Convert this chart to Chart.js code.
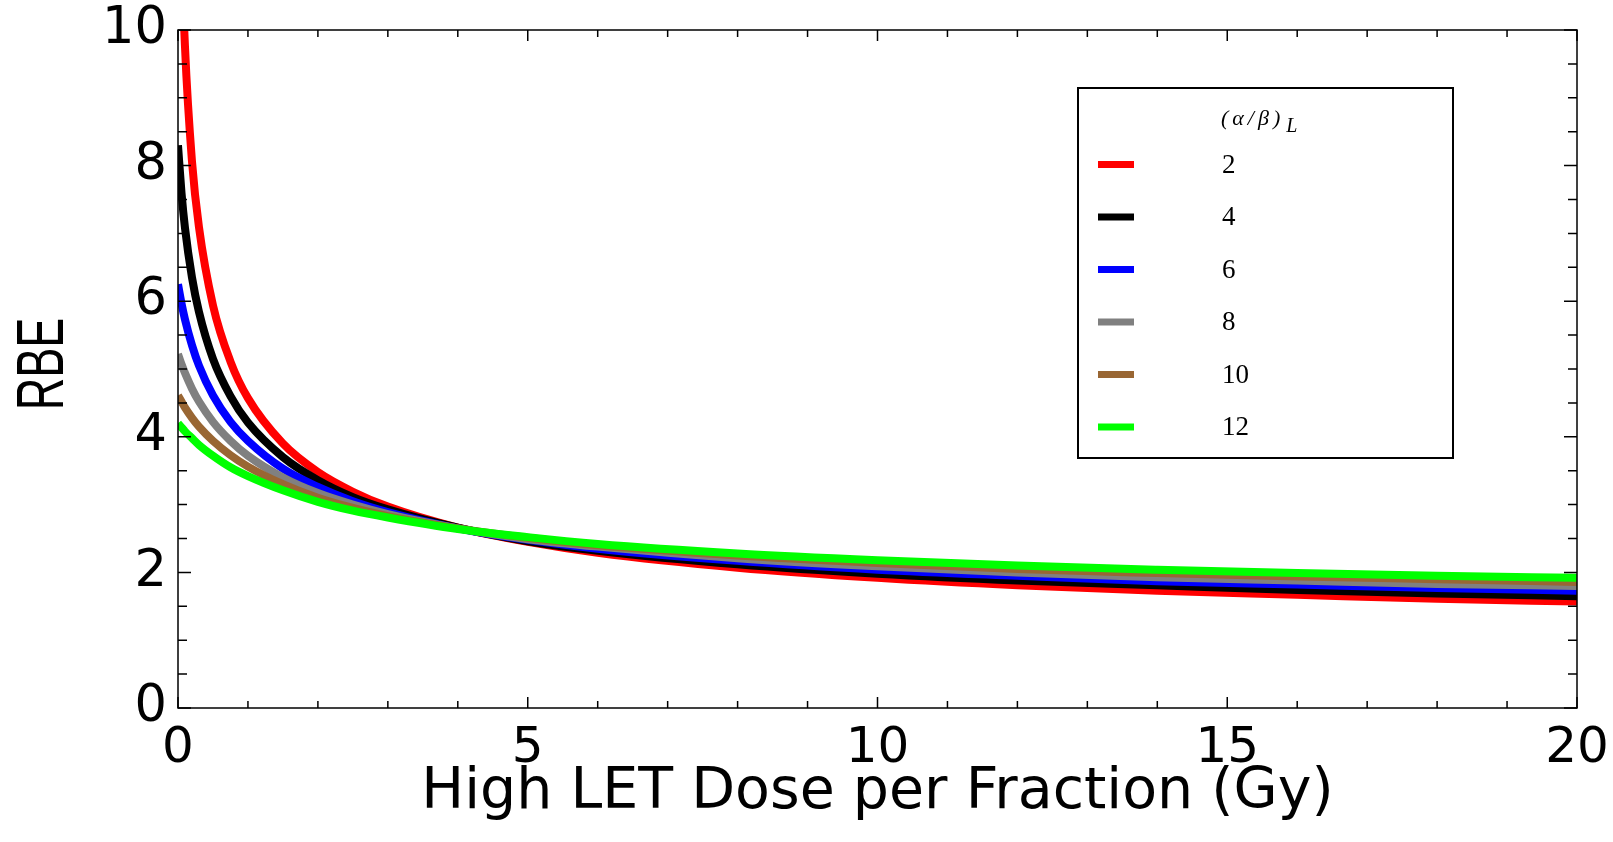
<!DOCTYPE html>
<html>
<head>
<meta charset="utf-8">
<script src="https://cdn.jsdelivr.net/npm/chart.js@4.4.1/dist/chart.umd.min.js"></script>
<style>
    html, body { margin: 0; padding: 0; background: #ffffff; }
    #wrap { width: 1613px; height: 842px; }
</style>
</head>
<body>
<div id="wrap"><canvas id="rbeChart" width="1613" height="842"></canvas></div>
<script>
// high LET dose per fraction (Gy)
const doses = [0, 0.05, 0.1, 0.2, 0.3, 0.5, 0.75, 1, 1.5, 2, 2.5, 3, 4, 5, 6, 8, 10, 12, 14, 16, 18, 20];

// RBE for each low LET (alpha/beta)
const rbeAB2  = [14.45, 11.29, 9.75, 8.06, 7.09, 5.94, 5.11, 4.57, 3.90, 3.48, 3.19, 2.97, 2.66, 2.45, 2.29, 2.07, 1.92, 1.81, 1.73, 1.67, 1.61, 1.57];
const rbeAB4  = [8.30, 7.60, 7.08, 6.35, 5.84, 5.15, 4.60, 4.21, 3.70, 3.36, 3.11, 2.93, 2.66, 2.46, 2.32, 2.12, 1.98, 1.88, 1.81, 1.74, 1.69, 1.65];
const rbeAB6  = [6.25, 5.97, 5.73, 5.35, 5.05, 4.61, 4.22, 3.94, 3.53, 3.26, 3.05, 2.89, 2.65, 2.48, 2.35, 2.17, 2.04, 1.95, 1.87, 1.82, 1.77, 1.73];
const rbeAB8  = [5.22, 5.07, 4.94, 4.71, 4.52, 4.22, 3.94, 3.72, 3.40, 3.17, 3.00, 2.86, 2.65, 2.49, 2.38, 2.21, 2.09, 2.00, 1.93, 1.88, 1.83, 1.80];
const rbeAB10 = [4.61, 4.52, 4.43, 4.28, 4.15, 3.94, 3.73, 3.56, 3.30, 3.10, 2.95, 2.83, 2.65, 2.51, 2.40, 2.25, 2.14, 2.05, 1.99, 1.94, 1.90, 1.86];
const rbeAB12 = [4.20, 4.14, 4.08, 3.98, 3.88, 3.72, 3.55, 3.42, 3.21, 3.04, 2.91, 2.81, 2.64, 2.52, 2.42, 2.28, 2.18, 2.10, 2.04, 1.99, 1.95, 1.92];

const seriesLabels = ['2', '4', '6', '8', '10', '12'];
const seriesValues = [rbeAB2, rbeAB4, rbeAB6, rbeAB8, rbeAB10, rbeAB12];
const seriesColors = ['#ff0000', '#000000', '#0000ff', '#808080', '#996633', '#00ff00'];

const xTickLabels = [0, 5, 10, 15, 20];
const yTickLabels = [0, 2, 4, 6, 8, 10];

// inward tick marks on all four sides, drawn over the curves
const frameTicks = {
    id: 'frameTicks',
    afterDatasetsDraw(chart) {
        const {ctx, chartArea: a, scales: {x, y}} = chart;
        ctx.save();
        ctx.strokeStyle = '#000000';
        ctx.lineWidth = 1.5;
        ctx.strokeRect(a.left, a.top, a.right - a.left, a.bottom - a.top);
        ctx.beginPath();
        for (let v = 0; v <= 20; v++) {
            const px = x.getPixelForValue(v);
            const len = xTickLabels.includes(v) ? 11 : 7;
            ctx.moveTo(px, a.bottom); ctx.lineTo(px, a.bottom - len);
            ctx.moveTo(px, a.top); ctx.lineTo(px, a.top + len);
        }
        for (let v = 0; v <= 10; v += 0.5) {
            const py = y.getPixelForValue(v);
            const len = yTickLabels.includes(v) ? 13 : 9;
            ctx.moveTo(a.left, py); ctx.lineTo(a.left + len, py);
            ctx.moveTo(a.right, py); ctx.lineTo(a.right - len, py);
        }
        ctx.stroke();
        ctx.restore();
    }
};

// boxed legend in the upper right and the stretched RBE axis title
const boxLegend = {
    id: 'boxLegend',
    afterDraw(chart) {
        const ctx = chart.ctx;
        ctx.save();

        ctx.fillStyle = '#000000';
        ctx.translate(63, 364);
        ctx.rotate(-Math.PI / 2);
        ctx.scale(1, 1.5);
        ctx.font = '45px "Liberation Sans"';
        ctx.textAlign = 'center';
        ctx.textBaseline = 'alphabetic';
        ctx.fillText('RBE', 0, 0);
        ctx.setTransform(1, 0, 0, 1, 0, 0);

        ctx.strokeStyle = '#000000';
        ctx.lineWidth = 2;
        ctx.strokeRect(1078, 88, 375, 370);

        ctx.textAlign = 'left';
        ctx.font = 'italic 22px "Liberation Serif"';
        ctx.letterSpacing = '4px';
        ctx.fillText('(α/β)', 1221, 125);
        const tw = ctx.measureText('(α/β)').width;
        ctx.font = 'italic 20px "Liberation Serif"';
        ctx.letterSpacing = '0px';
        ctx.fillText('L', 1221 + tw + 2, 132);

        ctx.font = '27px "Liberation Serif"';
        ctx.textBaseline = 'middle';
        chart.data.datasets.forEach((ds, i) => {
            const cy = 164.5 + i * 52.5;
            ctx.strokeStyle = ds.borderColor;
            ctx.lineWidth = 7;
            ctx.beginPath();
            ctx.moveTo(1098, cy);
            ctx.lineTo(1134, cy);
            ctx.stroke();
            ctx.fillText(ds.label, 1222, cy + 1);
        });
        ctx.restore();
    }
};

const ctx = document.getElementById('rbeChart').getContext('2d');
new Chart(ctx, {
    type: 'line',
    data: {
        datasets: seriesValues.map((vals, i) => ({
            label: seriesLabels[i],
            data: doses.map((d, j) => ({x: d, y: vals[j]})),
            borderColor: seriesColors[i],
            backgroundColor: seriesColors[i],
            borderWidth: 8,
            pointRadius: 0,
            fill: false,
            cubicInterpolationMode: 'monotone',
            order: seriesValues.length - i
        }))
    },
    options: {
        responsive: false,
        devicePixelRatio: 1,
        animation: false,
        layout: {padding: {top: 30, right: 36, left: 0, bottom: 0}},
        plugins: {
            legend: {display: false},
            tooltip: {enabled: false}
        },
        scales: {
            x: {
                type: 'linear',
                min: 0,
                max: 20,
                afterFit(scale) {
                    scale.height = 134;
                    scale.paddingLeft = 0;
                    scale.paddingRight = 0;
                },
                afterBuildTicks(scale) { scale.ticks = xTickLabels.map(v => ({value: v})); },
                grid: {display: false, drawTicks: false},
                border: {display: false},
                ticks: {
                    color: '#000000',
                    padding: 11,
                    maxRotation: 0,
                    font: {family: '"DejaVu Sans"', size: 50}
                },
                title: {
                    display: true,
                    text: 'High LET Dose per Fraction (Gy)',
                    color: '#000000',
                    font: {family: '"DejaVu Sans"', size: 57, lineHeight: 1},
                    padding: {top: 0, bottom: 20}
                }
            },
            y: {
                min: 0,
                max: 10,
                afterFit(scale) {
                    scale.width = 178;
                    scale.paddingTop = 0;
                    scale.paddingBottom = 0;
                },
                afterBuildTicks(scale) { scale.ticks = yTickLabels.map(v => ({value: v})); },
                grid: {display: false, drawTicks: false},
                border: {display: false},
                ticks: {
                    color: '#000000',
                    padding: 11,
                    font: {family: '"DejaVu Sans"', size: 51}
                }
            }
        }
    },
    plugins: [frameTicks, boxLegend]
});
</script>
</body>
</html>
